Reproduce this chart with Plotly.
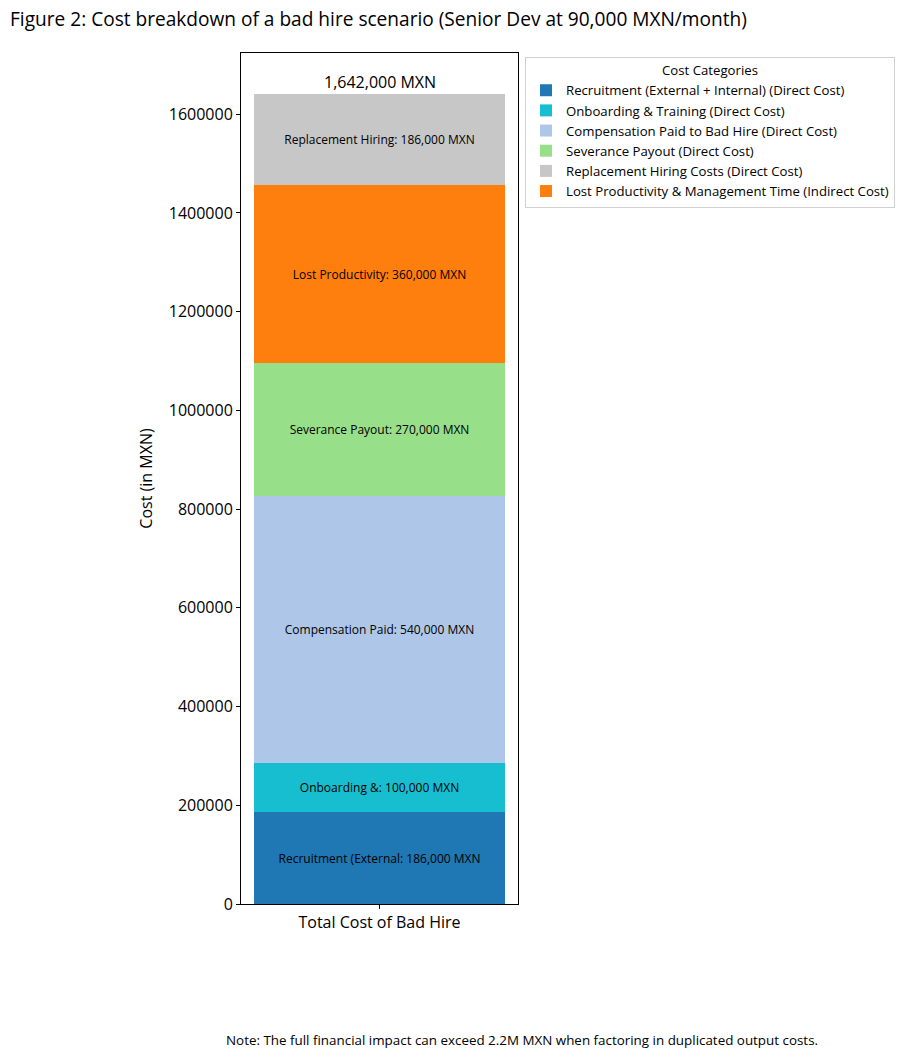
import plotly.graph_objects as go

category = ["Total Cost of Bad Hire"]
series_names = [
    "Recruitment (External + Internal) (Direct Cost)",
    "Onboarding & Training (Direct Cost)",
    "Compensation Paid to Bad Hire (Direct Cost)",
    "Severance Payout (Direct Cost)",
    "Lost Productivity & Management Time (Indirect Cost)",
    "Replacement Hiring Costs (Direct Cost)",
]
short_labels = [
    "Recruitment (External",
    "Onboarding &",
    "Compensation Paid",
    "Severance Payout",
    "Lost Productivity",
    "Replacement Hiring",
]
values = [186000, 100000, 540000, 270000, 360000, 186000]
legend_ranks = [1, 2, 3, 4, 6, 5]
colors = ["#1f77b4", "#17becf", "#aec7e8", "#98df8a", "#ff7f0e", "#c7c7c7"]

FONT = "Open Sans"
OFF = 8  # page body offset
W, H = 918 - OFF, 1058 - OFF
L, T = 241 - OFF, 53 - OFF
pw, ph = 277, 851
R = W - L - pw
B = H - T - ph

fig = go.Figure()
for name, lab, v, rk, c in zip(series_names, short_labels, values, legend_ranks, colors):
    fig.add_trace(go.Bar(
        x=category, y=[v], name=name, marker=dict(color=c, line=dict(width=0)),
        width=0.8, legendrank=rk,
        text=[f"{lab}: {v:,} MXN"], textposition="inside", insidetextanchor="middle",
        textangle=0, textfont=dict(size=12, color="black", family=FONT),
        constraintext="none", hoverinfo="skip",
    ))

total = sum(values)
fig.add_annotation(x=category[0], y=total, text=f"{total:,} MXN", showarrow=False,
                   yanchor="bottom", yshift=-1, font=dict(size=16, color="black", family=FONT))

fig.add_annotation(xref="paper", yref="paper", x=(522 - OFF - L) / pw, y=(H - B - (1040 - OFF)) / ph,
                   text="Note: The full financial impact can exceed 2.2M MXN when factoring in duplicated output costs.",
                   showarrow=False, xanchor="center", yanchor="middle",
                   font=dict(size=13.4, color="black", family=FONT))

fig.update_layout(
    width=W, height=H, barmode="stack",
    margin=dict(l=L, r=R, t=T, b=B, autoexpand=False),
    paper_bgcolor="white", plot_bgcolor="white",
    font=dict(family=FONT, color="black"),
    title=dict(text="Figure 2: Cost breakdown of a bad hire scenario (Senior Dev at 90,000 MXN/month)",
               x=(10 - OFF) / W, xanchor="left", y=1 - 5 / H, yanchor="top",
               font=dict(size=19.1, color="black", family=FONT)),
    legend=dict(x=(525 - OFF - L) / pw, xanchor="left", y=(H - B - (57 - OFF)) / ph, yanchor="top",
                traceorder="normal", bordercolor="#d0d0d0", borderwidth=1,
                font=dict(size=13.2, color="black", family=FONT),
                title=dict(text="Cost Categories", side="top center", font=dict(size=13.2, family=FONT)),
                tracegroupgap=0, itemsizing="constant"),
    showlegend=True,
    uniformtext=dict(mode=False),
)
fig.update_xaxes(range=[-0.44, 0.44], showline=True, linecolor="black", linewidth=1, mirror=True,
                 ticks="outside", ticklen=4, tickcolor="black", tickfont=dict(size=16, family=FONT),
                 showgrid=False)
fig.update_yaxes(range=[0, total * 1.05], showline=True, linecolor="black", linewidth=1, mirror=True,
                 ticks="outside", ticklen=4, tickcolor="black", dtick=200000, tickformat="d",
                 tickfont=dict(size=16, family=FONT), showgrid=False, zeroline=False,
                 title=dict(text="Cost (in MXN)", font=dict(size=16, family=FONT), standoff=12))

fig.write_html("out.html")
